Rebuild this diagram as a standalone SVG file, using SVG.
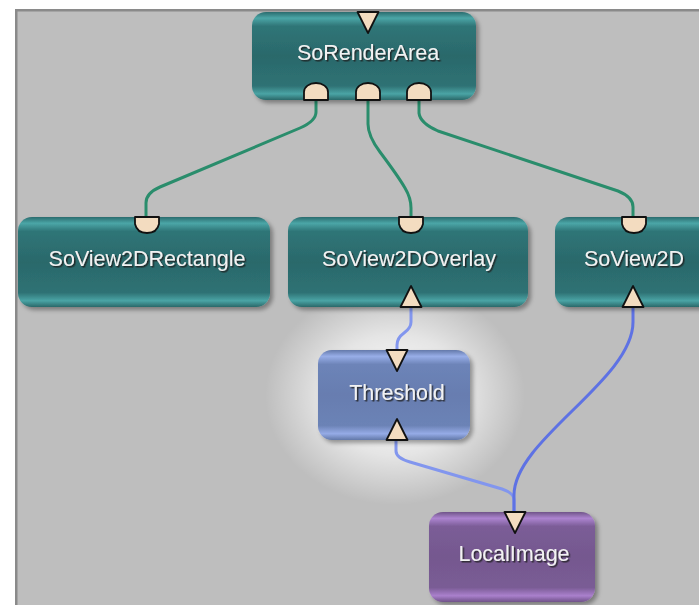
<svg xmlns="http://www.w3.org/2000/svg" width="699" height="605" viewBox="0 0 699 605">
<defs>
<linearGradient id="gTeal" x1="0" y1="0" x2="0" y2="1">
<stop offset="0" stop-color="#2b6c6e"/><stop offset="0.07" stop-color="#4ba6a7"/><stop offset="0.16" stop-color="#2f7577"/><stop offset="0.5" stop-color="#2b696b"/><stop offset="0.84" stop-color="#2e7274"/><stop offset="0.93" stop-color="#4aa4a5"/><stop offset="1" stop-color="#2a6869"/>
</linearGradient>
<linearGradient id="gBlue" x1="0" y1="0" x2="0" y2="1">
<stop offset="0" stop-color="#6479aa"/><stop offset="0.07" stop-color="#98aee8"/><stop offset="0.16" stop-color="#6d84b8"/><stop offset="0.5" stop-color="#677db0"/><stop offset="0.84" stop-color="#6c83b6"/><stop offset="0.93" stop-color="#95abe6"/><stop offset="1" stop-color="#6278a8"/>
</linearGradient>
<linearGradient id="gPurple" x1="0" y1="0" x2="0" y2="1">
<stop offset="0" stop-color="#705489"/><stop offset="0.07" stop-color="#ad84d0"/><stop offset="0.16" stop-color="#7b5d97"/><stop offset="0.5" stop-color="#75588f"/><stop offset="0.84" stop-color="#7a5c95"/><stop offset="0.93" stop-color="#aa80cc"/><stop offset="1" stop-color="#6f5288"/>
</linearGradient>
<radialGradient id="glow" cx="0.5" cy="0.5" r="0.5">
<stop offset="0" stop-color="#ffffff" stop-opacity="1"/><stop offset="0.55" stop-color="#ffffff" stop-opacity="0.6"/><stop offset="1" stop-color="#ffffff" stop-opacity="0"/>
</radialGradient>
<filter id="shadow" x="-10%" y="-10%" width="125%" height="130%">
<feDropShadow dx="3" dy="3" stdDeviation="2" flood-color="#000" flood-opacity="0.35"/>
</filter>
<filter id="tshadow" x="-10%" y="-30%" width="120%" height="160%">
<feDropShadow dx="1.5" dy="1.5" stdDeviation="0.6" flood-color="#1a1a1a" flood-opacity="0.85"/>
</filter>
</defs>
<style>
.lbl{font-family:"Liberation Sans",Arial,sans-serif;font-size:21.5px;fill:#f2f2f2;text-anchor:middle;filter:url(#tshadow)}
.port{fill:#f3dcc0;stroke:#111;stroke-width:1.8;stroke-linejoin:round}
.cg{fill:none;stroke:#2a8d6c;stroke-width:3;stroke-linecap:round;stroke-linejoin:round}
.cb{fill:none;stroke:#8296ee;stroke-width:3;stroke-linecap:round;stroke-linejoin:round}
.cb2{fill:none;stroke:#5e72e4;stroke-width:3;stroke-linecap:round;stroke-linejoin:round}
.box{filter:url(#shadow)}
</style>
<rect x="0" y="0" width="699" height="605" fill="#ffffff"/>
<rect x="15" y="9" width="684" height="596" fill="#bebebe"/>
<rect x="15" y="9" width="684" height="2.5" fill="#8a8a8a"/>
<rect x="15" y="9" width="2.5" height="596" fill="#8a8a8a"/>
<ellipse cx="395" cy="395" rx="130" ry="110" fill="url(#glow)"/>

<g id="connectors">
<path class="cg" d="M316,100 L316,112 Q316,121 300,128 L160,187 Q146,193 146,203 L146,217"/>
<path class="cg" d="M368,100 L368,124 Q368,136 380,152 Q398,176 405,188 Q411,198 411,208 L411,217"/>
<path class="cg" d="M419,100 L419,113 Q420,123 438,131 L618,191 Q633,197 633,207 L633,217"/>
<path class="cb" d="M411,307 L411,322 Q411,328 404,333 Q397,338 397,345 L397,350"/>
<path class="cb" d="M396,440 L396,451 Q396,458 410,462 L502,489 Q514,493 514,500 L514,512"/>
<path class="cb2" d="M633,307 L633,322 C633,380 514,440 514,495 L514,512"/>
</g>

<g id="SoRenderArea">
<rect class="box" x="252" y="12" width="224" height="88" rx="14" fill="url(#gTeal)"/>
<text class="lbl" x="368" y="60">SoRenderArea</text>
<path class="port" d="M357.5,12 L378.5,12 L368,33 Z"/>
<path class="port" d="M304,100 L304,92 A12,9 0 0 1 328,92 L328,100 Z"/>
<path class="port" d="M356,100 L356,92 A12,9 0 0 1 380,92 L380,100 Z"/>
<path class="port" d="M407,100 L407,92 A12,9 0 0 1 431,92 L431,100 Z"/>
</g>

<g id="SoView2DRectangle">
<rect class="box" x="18" y="217" width="252" height="90" rx="14" fill="url(#gTeal)"/>
<text class="lbl" x="147" y="266">SoView2DRectangle</text>
<path class="port" d="M135,217 L159,217 L159,224 Q157,233 147,233 Q137,233 135,224 Z"/>
</g>

<g id="SoView2DOverlay">
<rect class="box" x="288" y="217" width="240" height="90" rx="14" fill="url(#gTeal)"/>
<text class="lbl" x="409" y="266">SoView2DOverlay</text>
<path class="port" d="M399,217 L423,217 L423,224 Q421,233 411,233 Q401,233 399,224 Z"/>
<path class="port" d="M400.5,307 L421.5,307 L411,286 Z"/>
</g>

<g id="SoView2D">
<rect class="box" x="555" y="217" width="160" height="90" rx="14" fill="url(#gTeal)"/>
<text class="lbl" x="634" y="266">SoView2D</text>
<path class="port" d="M622,217 L646,217 L646,224 Q644,233 634,233 Q624,233 622,224 Z"/>
<path class="port" d="M622.5,307 L643.5,307 L633,286 Z"/>
</g>

<g id="Threshold">
<rect class="box" x="318" y="350" width="152" height="90" rx="14" fill="url(#gBlue)"/>
<text class="lbl" x="397" y="400">Threshold</text>
<path class="port" d="M386.5,350 L407.5,350 L397,371 Z"/>
<path class="port" d="M386.5,440 L407.5,440 L397,419 Z"/>
</g>

<g id="LocalImage">
<rect class="box" x="429" y="512" width="166" height="90" rx="14" fill="url(#gPurple)"/>
<text class="lbl" x="514" y="561">LocalImage</text>
<path class="port" d="M504.5,512 L525.5,512 L515,533 Z"/>
</g>
</svg>
